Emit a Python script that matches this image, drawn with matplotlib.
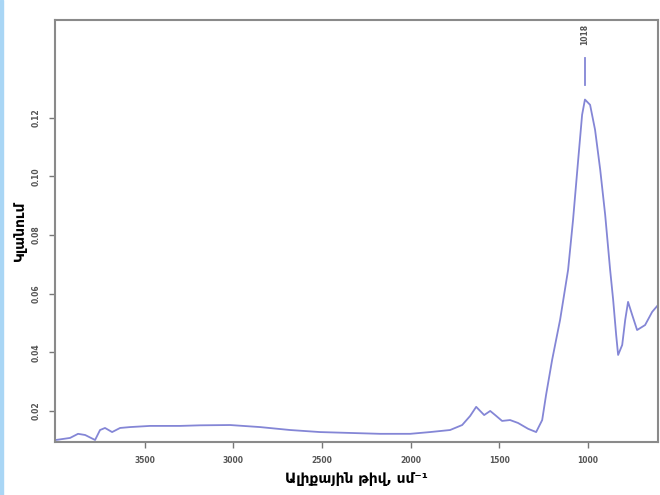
import matplotlib
matplotlib.use("agg")
import matplotlib.pyplot as plt
from matplotlib.patches import Rectangle

# IR spectrum: wavenumber (cm-1) and absorbance
WAVENUMBER = [4000, 3920, 3875, 3835, 3779, 3751, 3723, 3683, 3638, 3582,
              3469, 3300, 3187, 3018, 2849, 2680, 2511, 2342, 2173, 2003,
              1891, 1778, 1710, 1665, 1631, 1586, 1552, 1524, 1485, 1440,
              1395, 1338, 1293, 1259, 1237, 1203, 1158, 1113, 1085, 1056,
              1034, 1018, 989, 961, 932, 904, 876, 859, 842, 831,
              808, 791, 775, 752, 724, 679, 639, 605]
ABSORBANCE = [0.0101, 0.0108, 0.0122, 0.0118, 0.0101, 0.0135, 0.0142, 0.0128, 0.0142, 0.0145,
              0.0149, 0.0149, 0.0151, 0.0152, 0.0145, 0.0135, 0.0128, 0.0125, 0.0122, 0.0122,
              0.0128, 0.0135, 0.0152, 0.0183, 0.0214, 0.0186, 0.0200, 0.0186, 0.0166, 0.0169,
              0.0159, 0.0139, 0.0128, 0.0169, 0.0255, 0.0374, 0.0511, 0.0681, 0.0852, 0.1057,
              0.1210, 0.1262, 0.1244, 0.1159, 0.1023, 0.0869, 0.0681, 0.0579, 0.0459, 0.0391,
              0.0425, 0.0511, 0.0572, 0.0528, 0.0476, 0.0493, 0.0538, 0.0562]

X_TICKS = [3500, 3000, 2500, 2000, 1500, 1000]
Y_TICKS = [0.02, 0.04, 0.06, 0.08, 0.10, 0.12]
PEAK_WN = 1018
PEAK_LABEL = "1018"

fig = plt.figure(figsize=(6.6, 4.95), dpi=100)
fig.patches.append(Rectangle((0, 0), 0.005, 1, transform=fig.transFigure,
                             color="#a9d6f5", zorder=0))
ax = fig.add_axes([0.0833, 0.107, 0.914, 0.853])

ax.plot(WAVENUMBER, ABSORBANCE, color="#8486d6", lw=1.3)

# peak marker with vertical wavenumber label
ax.plot([PEAK_WN, PEAK_WN], [0.1313, 0.1405], color="#8486d6", lw=1.3)
ax.text(PEAK_WN, 0.1485, PEAK_LABEL, rotation=90, ha="center", va="center",
        fontsize=5.5, color="#555555", fontweight="bold")

ax.set_xlim(4005, 605)
ax.set_ylim(0.0094, 0.1534)
ax.set_xticks(X_TICKS)
ax.set_yticks(Y_TICKS)
ax.set_xticklabels([str(t) for t in X_TICKS], fontsize=5.5, color="#555555",
                   fontweight="bold")
ax.set_yticklabels(["%.2f" % t for t in Y_TICKS], fontsize=5.5, color="#555555",
                   fontweight="bold", rotation=90, va="center")
ax.tick_params(direction="out", length=4, width=1, color="#777777", pad=6)

for sp in ax.spines.values():
    sp.set_color("#8a8a8a")
    sp.set_linewidth(1.5)

ax.set_xlabel("Ալիքային թիվ, սմ⁻¹", fontsize=10, fontweight="bold", labelpad=5)
ax.set_ylabel("Կլանում", fontsize=10, fontweight="bold", labelpad=4)

plt.savefig("out.png", dpi=100)
